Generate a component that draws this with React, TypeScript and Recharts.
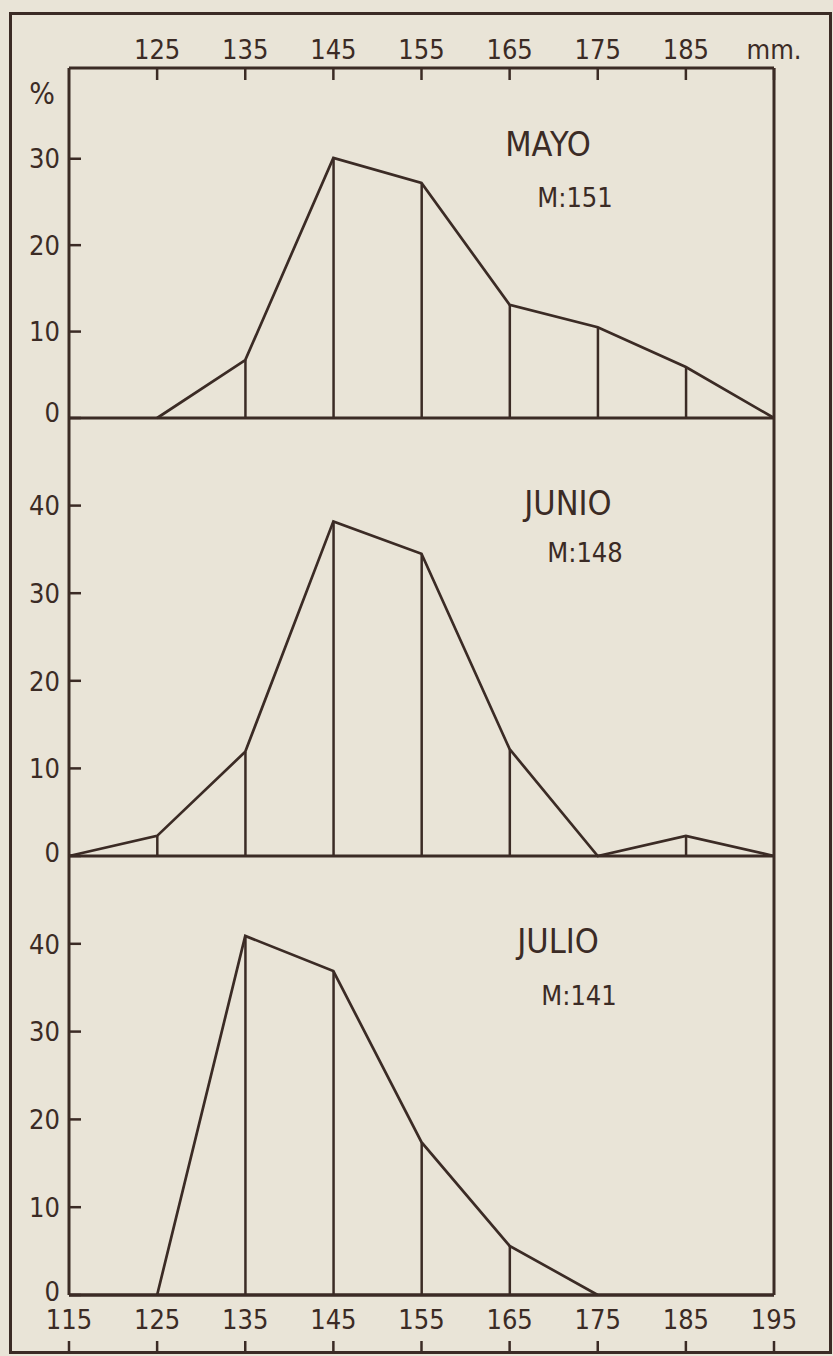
import { ComposedChart, Line, Bar, XAxis, YAxis, ReferenceLine } from 'recharts';

// class marks (mm) and % of fish per class
const lengths = [115, 125, 135, 145, 155, 165, 175, 185, 195];
const mayo = [null, 0, 6.7, 30.1, 27.2, 13.1, 10.5, 5.9, 0];
const junio = [0, 2.3, 11.9, 38.2, 34.5, 12.2, 0, 2.3, 0];
const julio = [null, 0, 40.9, 36.9, 17.4, 5.6, 0, null, null];

const months = ['MAYO', 'JUNIO', 'JULIO'];
const means = ['M:151', 'M:148', 'M:141'];

const topTicks = [125, 135, 145, 155, 165, 175, 185, 195];
const mayoTicks = [0, 10, 20, 30];
const monthTicks = [0, 10, 20, 30, 40];

const INK = '#3b2b25';
const PAPER = '#e9e4d7';
const FONT = '"Liberation Sans Narrow", "DejaVu Sans Condensed", "Roboto", sans-serif';

const tickFont = { fill: INK, fontSize: 27, fontFamily: FONT };

const toRows = (vals: (number | null)[]) => lengths.map((x, i) => ({ x, v: vals[i] }));

// left % labels; the zero sits a little above the base line like in the print
const PercentTick = (props: any) => {
  const { x, y, payload, lift } = props;
  const shift = payload.value === 0 ? -lift : 0;
  return (
    <text
      x={x}
      y={y + shift}
      dy="0.36em"
      textAnchor="end"
      fill={INK}
      fontSize={27}
      fontFamily={FONT}
    >
      {payload.value}
    </text>
  );
};

type PanelProps = {
  vals: (number | null)[];
  top: number;
  height: number;
  yMax: number;
  yTicks: number[];
  mode: 'top' | 'middle' | 'bottom';
  lift: number;
};

const Panel = ({ vals, top, height, yMax, yTicks, mode, lift }: PanelProps) => {
  const data = toRows(vals);
  return (
    <div style={{ position: 'absolute', left: 0, top, width: 833, height }}>
      <ComposedChart
        width={833}
        height={height}
        data={data}
        margin={{ top: 0, right: 0, left: 0, bottom: mode === 'bottom' ? 0 : 2 }}
      >
        {mode === 'top' && (
          <XAxis
            dataKey="x"
            type="number"
            orientation="top"
            domain={[115, 195]}
            ticks={topTicks}
            height={68}
            tickSize={-12}
            tickMargin={21}
            tickFormatter={(v: number) => (v === 195 ? 'mm.' : String(v))}
            axisLine={{ stroke: INK, strokeWidth: 3 }}
            tickLine={{ stroke: INK, strokeWidth: 2.5 }}
            tick={tickFont}
            interval={0}
          />
        )}
        {mode === 'middle' && <XAxis dataKey="x" type="number" domain={[115, 195]} hide />}
        {mode === 'bottom' && (
          <XAxis
            dataKey="x"
            type="number"
            orientation="bottom"
            domain={[115, 195]}
            ticks={lengths}
            height={57}
            tickSize={0}
            tickMargin={15}
            axisLine={{ stroke: INK, strokeWidth: 3 }}
            tickLine={false}
            tick={tickFont}
            interval={0}
          />
        )}
        {mode === 'bottom' && (
          <XAxis
            xAxisId="frame"
            dataKey="x"
            type="number"
            orientation="bottom"
            domain={[115, 195]}
            ticks={lengths}
            height={4}
            tickSize={-11}
            tickMargin={0}
            axisLine={false}
            tickLine={{ stroke: INK, strokeWidth: 2.5 }}
            tickFormatter={() => ''}
            interval={0}
          />
        )}
        <YAxis
          yAxisId="left"
          orientation="left"
          type="number"
          domain={[0, yMax]}
          ticks={yTicks}
          width={69}
          tickSize={-12}
          tickMargin={21}
          axisLine={{ stroke: INK, strokeWidth: 3 }}
          tickLine={{ stroke: INK, strokeWidth: 2.5 }}
          tick={<PercentTick lift={lift} />}
          interval={0}
        />
        <YAxis
          yAxisId="right"
          orientation="right"
          type="number"
          domain={[0, yMax]}
          ticks={yTicks.filter((t) => t > 0)}
          width={59}
          tickSize={-11}
          axisLine={{ stroke: INK, strokeWidth: 3 }}
          tickLine={{ stroke: INK, strokeWidth: 2.5 }}
          tickFormatter={() => ''}
          interval={0}
        />
        <ReferenceLine yAxisId="left" y={0} stroke={INK} strokeWidth={3} />
        <Bar yAxisId="left" dataKey="v" barSize={2.5} fill={INK} isAnimationActive={false} />
        <Line
          yAxisId="left"
          dataKey="v"
          type="linear"
          stroke={INK}
          strokeWidth={2.7}
          dot={false}
          activeDot={false}
          isAnimationActive={false}
        />
      </ComposedChart>
    </div>
  );
};

const textAt = (x: number, y: number, size: number) => ({
  position: 'absolute' as const,
  left: x,
  top: y,
  transform: 'translate(-50%, -50%)',
  fontFamily: FONT,
  fontSize: size,
  lineHeight: 1,
  color: INK,
  whiteSpace: 'nowrap' as const,
});

export default function App() {
  return (
    <div
      style={{
        position: 'absolute',
        left: 0,
        top: 0,
        width: 833,
        height: 1356,
        background: PAPER,
        overflow: 'hidden',
      }}
    >
      <style>{'svg { overflow: visible; }'}</style>
      <div
        style={{
          position: 'absolute',
          left: 9,
          top: 12,
          width: 823,
          height: 1342,
          boxSizing: 'border-box',
          border: `3px solid ${INK}`,
        }}
      />
      <Panel vals={mayo} top={0} height={420} yMax={40.5} yTicks={mayoTicks} mode="top" lift={6} />
      <Panel vals={junio} top={418} height={440} yMax={50} yTicks={monthTicks} mode="middle" lift={4} />
      <Panel vals={julio} top={856} height={500} yMax={50} yTicks={monthTicks} mode="bottom" lift={4} />

      <div style={textAt(42, 94, 30)}>%</div>
      <div style={textAt(548, 144, 34)}>{months[0]}</div>
      <div style={textAt(575, 197, 27)}>{means[0]}</div>
      <div style={textAt(568, 503, 34)}>{months[1]}</div>
      <div style={textAt(585, 552, 27)}>{means[1]}</div>
      <div style={textAt(558, 941, 34)}>{months[2]}</div>
      <div style={textAt(579, 995, 27)}>{means[2]}</div>
    </div>
  );
}
